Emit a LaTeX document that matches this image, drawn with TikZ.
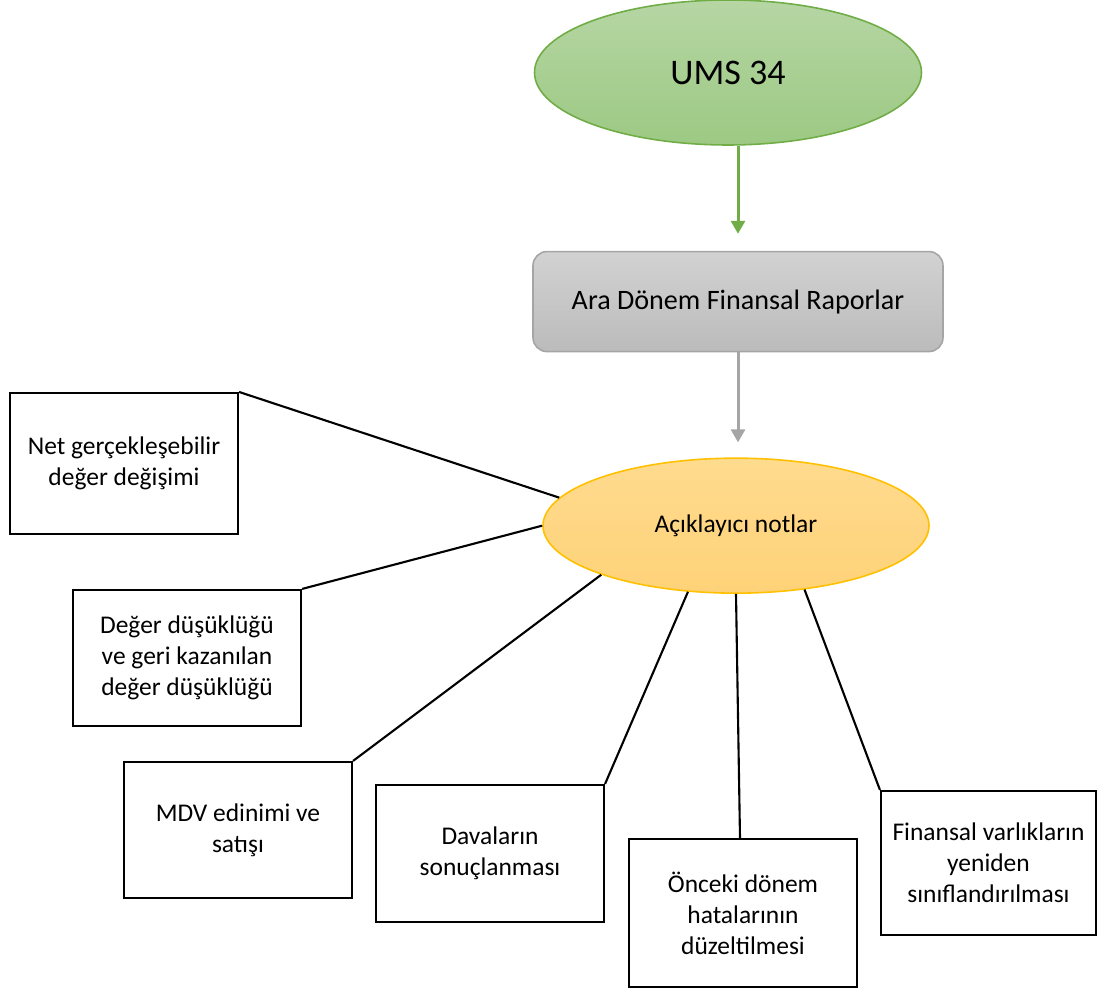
\documentclass[tikz,border=0pt]{standalone}
\usepackage{fontspec}
\setmainfont{Carlito}
\usetikzlibrary{arrows.meta,positioning,shapes.geometric}
\definecolor{umsline}{RGB}{112,173,71}
\definecolor{umstop}{RGB}{182,214,164}
\definecolor{umsbottom}{RGB}{156,201,131}
\definecolor{araline}{RGB}{165,165,165}
\definecolor{aratop}{RGB}{210,210,210}
\definecolor{arabottom}{RGB}{187,187,187}
\definecolor{notline}{RGB}{255,192,0}
\definecolor{nottop}{RGB}{255,219,143}
\definecolor{notbottom}{RGB}{254,210,120}

\begin{document}
\begin{tikzpicture}[
    >={Triangle[width=0.28cm,length=0.26cm]},
    node distance=2.1cm,
    standard/.style={draw, ellipse, inner sep=0pt, minimum width=7.74cm, minimum height=2.9cm,
        draw=umsline, line width=0.9pt, top color=umstop, bottom color=umsbottom,
        font=\fontsize{20.5}{24}\selectfont},
    report/.style={draw, rectangle, rounded corners=0.28cm, minimum width=8.2cm, minimum height=2cm,
        draw=araline, line width=0.9pt, top color=aratop, bottom color=arabottom,
        font=\fontsize{16}{19}\selectfont},
    notes/.style={draw, ellipse, inner sep=0pt, minimum width=7.72cm, minimum height=2.7cm,
        draw=notline, line width=0.9pt, top color=nottop, bottom color=notbottom,
        font=\fontsize{14.5}{17.6}\selectfont},
    item/.style={draw, rectangle, line width=1.2pt, inner sep=0pt, minimum width=4.56cm,
        align=center, font=\fontsize{14.5}{17.6}\selectfont},
    flow/.style={->, line width=1.7pt},
    link/.style={line width=1.2pt}
]
\useasboundingbox (0,0) rectangle (21.96,-19.78);

% Nodes
\node[standard] (ums) at (14.56,-1.45) {UMS 34};
\node[report, below=of ums, xshift=0.2cm] (ara) {Ara Dönem Finansal Raporlar};
\node[notes, below=of ara, xshift=-0.04cm] (aciklayici) {Açıklayıcı notlar};

\node[item, minimum height=2.82cm] (net) at (2.48,-9.27) {Net gerçekleşebilir\\değer değişimi};
\node[item, minimum height=2.72cm] (deger) at (3.74,-13.16) {Değer düşüklüğü\\ve geri kazanılan\\değer düşüklüğü};
\node[item, minimum height=2.72cm] (mdv) at (4.76,-16.6) {MDV edinimi ve\\satışı};
\node[item, minimum height=2.74cm] (dava) at (9.8,-17.07) {Davaların\\sonuçlanması};
\node[item, minimum height=2.96cm] (onceki) at (14.86,-18.26) {Önceki dönem\\hatalarının\\düzeltilmesi};
\node[item, minimum width=4.3cm, minimum height=2.88cm] (finansal) at (19.77,-17.26) {Finansal varlıkların\\yeniden\\sınıflandırılması};

% Connections
\draw[flow, umsline] (ums.south -| ara.north) -- ([yshift=0.34cm]ara.north);
\draw[flow, araline] (ara.south) -- ([yshift=0.3cm]ara.south |- aciklayici.north);
\draw[link] (net.north east) -- (aciklayici.171);
\draw[link] (deger.north east) -- (aciklayici.180);
\draw[link] (mdv.north east) -- (aciklayici.200);
\draw[link] (dava.north east) -- (aciklayici.234);
\draw[link] ([xshift=-0.06cm]onceki.north) -- (aciklayici.south);
\draw[link] (finansal.north west) -- (aciklayici.317);

\end{tikzpicture}
\end{document}
